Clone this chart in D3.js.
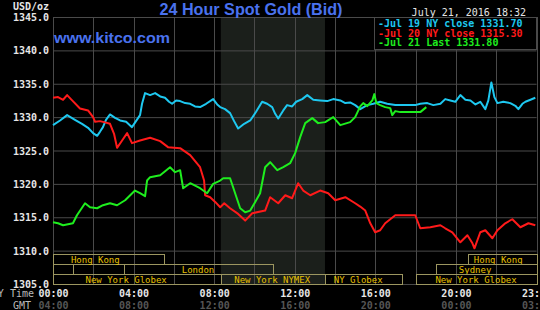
<!DOCTYPE html>
<html>
<head>
<meta charset="utf-8">
<script src="https://cdn.jsdelivr.net/npm/d3@7"></script>
<style>
  html, body { margin: 0; padding: 0; background: #000; overflow: hidden; }
  svg { display: block; }
</style>
</head>
<body>
<svg id="chart" width="540" height="310"></svg>
<script>
// hours since 00:00 NY time, price in USD/oz
var jul19 = [[0.00,1328.8],[0.35,1329.5],[0.70,1330.3],[1.09,1329.6],[1.44,1329.0],[1.74,1328.4],[1.99,1327.6],[2.19,1327.2],[2.33,1327.8],[2.48,1328.5],[2.63,1329.6],[2.83,1330.4],[3.08,1329.9],[3.33,1329.5],[3.63,1329.3],[3.92,1328.5],[4.12,1329.4],[4.32,1330.3],[4.42,1332.0],[4.57,1333.6],[4.82,1333.3],[5.07,1333.6],[5.32,1333.1],[5.56,1332.9],[5.76,1332.3],[5.91,1332.0],[6.11,1332.5],[6.31,1332.4],[6.56,1332.1],[6.81,1332.0],[7.05,1331.6],[7.30,1331.5],[7.60,1332.0],[7.95,1332.7],[8.15,1331.9],[8.30,1331.5],[8.54,1331.2],[8.79,1330.6],[8.99,1329.4],[9.19,1328.3],[9.49,1329.0],[9.79,1329.5],[10.08,1330.8],[10.38,1332.3],[10.63,1332.0],[10.88,1331.5],[11.03,1330.5],[11.18,1329.8],[11.43,1331.0],[11.62,1331.8],[11.87,1331.6],[12.07,1332.3],[12.37,1332.7],[12.62,1333.3],[12.92,1332.6],[13.26,1332.5],[13.61,1332.4],[13.91,1332.7],[14.26,1332.5],[14.51,1332.1],[14.75,1332.2],[15.00,1331.8],[15.25,1331.2],[15.60,1331.8],[15.90,1332.0],[16.24,1332.3],[16.59,1332.0],[16.99,1331.8],[17.49,1331.8],[17.98,1331.8],[18.23,1332.0],[18.58,1332.1],[18.88,1331.8],[19.23,1332.0],[19.47,1332.7],[19.72,1332.5],[19.97,1332.3],[20.22,1333.3],[20.47,1332.6],[20.72,1332.5],[20.97,1331.9],[21.21,1332.3],[21.46,1331.2],[21.61,1332.5],[21.76,1335.2],[21.91,1333.0],[22.06,1332.1],[22.35,1332.3],[22.70,1332.1],[22.95,1331.7],[23.10,1331.2],[23.30,1332.0],[23.45,1332.3],[23.70,1332.6],[23.94,1332.9]];
var jul20 = [[0.00,1332.9],[0.25,1333.0],[0.50,1332.6],[0.70,1333.3],[0.95,1332.5],[1.34,1331.3],[1.74,1331.0],[1.99,1330.0],[2.09,1329.3],[2.33,1329.4],[2.53,1329.25],[2.83,1329.0],[3.03,1327.5],[3.18,1325.4],[3.43,1326.5],[3.68,1327.6],[3.92,1326.1],[4.32,1326.5],[4.82,1326.9],[5.32,1326.4],[5.71,1325.5],[6.31,1325.35],[6.81,1324.3],[7.30,1322.5],[7.50,1320.5],[7.55,1318.3],[7.80,1318.0],[8.05,1317.3],[8.30,1316.5],[8.50,1317.1],[8.79,1316.35],[9.19,1315.5],[9.54,1314.5],[9.89,1315.6],[10.53,1316.0],[10.78,1318.0],[11.18,1317.1],[11.53,1318.3],[11.87,1317.85],[12.17,1320.1],[12.42,1319.0],[12.77,1318.3],[13.26,1319.0],[13.66,1318.6],[14.01,1317.55],[14.51,1318.0],[15.00,1317.1],[15.25,1316.6],[15.50,1316.0],[15.75,1314.1],[15.99,1312.75],[16.24,1313.05],[16.49,1314.1],[16.99,1315.3],[17.98,1315.3],[18.23,1313.35],[18.73,1313.5],[19.23,1313.8],[19.47,1313.35],[19.82,1312.75],[20.22,1311.25],[20.57,1312.3],[20.82,1311.1],[20.92,1310.35],[21.21,1312.75],[21.46,1313.05],[21.81,1311.85],[22.06,1313.05],[22.45,1314.1],[22.80,1314.7],[23.20,1313.5],[23.60,1314.1],[23.94,1313.8]];
var jul21 = [[0.00,1314.25],[0.25,1314.1],[0.50,1313.8],[0.99,1314.1],[1.19,1315.3],[1.59,1317.1],[1.84,1316.5],[2.19,1316.35],[2.48,1316.8],[2.83,1317.1],[3.18,1316.8],[3.58,1317.55],[4.07,1319.0],[4.32,1318.6],[4.57,1318.15],[4.67,1320.5],[4.82,1321.0],[5.32,1321.3],[5.81,1322.5],[6.06,1321.75],[6.31,1322.05],[6.46,1319.35],[6.81,1320.1],[7.30,1319.35],[7.65,1318.6],[7.95,1320.0],[8.30,1320.5],[8.45,1320.85],[8.79,1320.85],[8.94,1319.5],[9.29,1316.35],[9.54,1315.75],[9.79,1316.0],[10.03,1317.25],[10.28,1318.6],[10.53,1322.5],[10.78,1323.25],[11.13,1322.05],[11.43,1322.5],[11.77,1323.1],[12.02,1324.6],[12.27,1327.0],[12.52,1329.1],[12.87,1329.85],[13.16,1329.1],[13.51,1329.25],[13.91,1330.0],[14.26,1328.8],[14.75,1329.25],[15.00,1330.0],[15.25,1331.6],[15.40,1332.1],[15.60,1331.65],[15.85,1332.5],[15.95,1333.45],[16.05,1332.1],[16.24,1331.8],[16.49,1331.5],[16.74,1331.35],[16.84,1330.3],[16.99,1330.9],[17.24,1330.75],[18.23,1330.75],[18.53,1331.5]];

var seriesNames = ["-Jul 19 NY close 1331.70", "-Jul 20 NY close 1315.30", "-Jul 21 Last 1331.80"];
var seriesColors = ["#1ec8f0", "#ff1a1a", "#1eee1e"];

var yTicks = [1305, 1310, 1315, 1320, 1325, 1330, 1335, 1340, 1345];
var xGridHours = [0, 2, 4, 6, 8, 10, 12, 14, 16, 18, 20, 22, 24];
var xLabelHours = [0, 4, 8, 12, 16, 20, 24];
var nyLabels = ["00:00", "04:00", "08:00", "12:00", "16:00", "20:00", "23:59"];
var gmtLabels = ["04:00", "08:00", "12:00", "16:00", "20:00", "00:00", "03:59"];

// NY trading hours (shaded)
var nyHours = [8.33, 13.5];

// sessions: row, start, end, label, label position (hours)
var sessRow = [0, 0, 1, 1, 1, 2, 2, 2, 2];
var sessStart = [0, 20.6, 0, 3.5, 19, 0, 8.33, 13.5, 18];
var sessEnd = [5.5, 24, 1, 10.93, 24, 8.33, 13.5, 17.33, 24];
var sessName = ["Hong Kong", "Hong Kong", "", "London", "Sydney", "New York Globex", "New York NYMEX", "NY Globex", "New York Globex"];
var sessMid = [2.1, 22.1, 0.5, 7.2, 20.95, 3.63, 10.88, 15.15, 21.0];

var svg = d3.select("#chart");
var mono = "'DejaVu Sans Mono', monospace";

var x = d3.scaleLinear().domain([0, 24]).range([53, 536.5]);
var y = d3.scaleLinear().domain([1305, 1345]).range([284, 17]);

svg.append("rect").attr("width", 540).attr("height", 310).attr("fill", "#000");

// shaded NY session
svg.append("rect")
    .attr("x", x(nyHours[0]))
    .attr("y", y(1345))
    .attr("width", x(nyHours[1]) - x(nyHours[0]))
    .attr("height", y(1305) - y(1345))
    .attr("fill", "#1b1f1b");

// grid
var grid = svg.append("g");
grid.selectAll("line.h")
    .data(yTicks)
    .enter().append("line")
    .attr("class", "h")
    .attr("x1", x(0)).attr("x2", x(24))
    .attr("y1", function (d) { return y(d) + 0.5; })
    .attr("y2", function (d) { return y(d) + 0.5; })
    .attr("stroke", "#4a4a4a");
grid.selectAll("line.v")
    .data(xGridHours)
    .enter().append("line")
    .attr("class", "v")
    .attr("x1", function (d) { return Math.round(x(d)) + 0.5; })
    .attr("x2", function (d) { return Math.round(x(d)) + 0.5; })
    .attr("y1", y(1345)).attr("y2", y(1305))
    .attr("stroke", "#4a4a4a");

// y axis labels
var yAxis = svg.append("g")
    .attr("transform", "translate(49,0)")
    .call(d3.axisLeft(y).tickValues(yTicks).tickSize(0).tickPadding(0).tickFormat(d3.format(".1f")));
yAxis.select(".domain").remove();
yAxis.selectAll("text")
    .attr("fill", "#e6e6e6")
    .style("font-family", mono)
    .style("font-weight", "bold")
    .style("font-size", "10px")
    .attr("dy", "0.36em");

// x axis labels, NY time and GMT
var xAxis = svg.append("g")
    .attr("transform", "translate(0,290)")
    .call(d3.axisBottom(x).tickValues(xLabelHours).tickSize(0).tickPadding(0)
        .tickFormat(function (d, i) { return nyLabels[i]; }));
xAxis.select(".domain").remove();
xAxis.selectAll("text")
    .attr("fill", "#e6e6e6")
    .style("font-family", mono)
    .style("font-weight", "bold")
    .style("font-size", "10px");
var gAxis = svg.append("g")
    .attr("transform", "translate(0,302)")
    .call(d3.axisBottom(x).tickValues(xLabelHours).tickSize(0).tickPadding(0)
        .tickFormat(function (d, i) { return gmtLabels[i]; }));
gAxis.select(".domain").remove();
gAxis.selectAll("text")
    .attr("fill", "#555")
    .style("font-family", mono)
    .style("font-weight", "bold")
    .style("font-size", "10px");

svg.append("text").attr("x", 34).attr("y", 297).attr("text-anchor", "end")
    .attr("fill", "#bbb").style("font-family", mono).style("font-size", "10px").text("NY Time");
svg.append("text").attr("x", 31).attr("y", 309).attr("text-anchor", "end")
    .attr("fill", "#bbb").style("font-family", mono).style("font-size", "10px").text("GMT");

// session boxes
var sess = svg.append("g");
var rowTop = function (r) { return 254 + r * 10; };
sessName.forEach(function (name, i) {
    var x0 = Math.round(x(sessStart[i])) + 0.5;
    var x1 = Math.round(x(sessEnd[i])) + 0.5;
    sess.append("rect")
        .attr("x", x0).attr("y", rowTop(sessRow[i]) + 0.5)
        .attr("width", x1 - x0).attr("height", 10)
        .attr("fill", "none")
        .attr("stroke", "#9c9660");
    if (name) {
        sess.append("text")
            .attr("x", x(sessMid[i]))
            .attr("y", rowTop(sessRow[i]) + 8.5)
            .attr("text-anchor", "middle")
            .attr("fill", "#e8c000")
            .style("font-family", mono)
            .style("font-size", "9px")
            .text(name);
    }
});

// price lines
var line = d3.line()
    .x(function (d) { return x(d[0]); })
    .y(function (d) { return y(d[1]); });
[jul19, jul20, jul21].forEach(function (s, i) {
    svg.append("path")
        .datum(s)
        .attr("d", line)
        .attr("fill", "none")
        .attr("stroke", seriesColors[i])
        .attr("stroke-width", 2)
        .attr("stroke-linejoin", "round");
});

// legend box
svg.append("rect")
    .attr("x", 374.5).attr("y", 17.5)
    .attr("width", 162).attr("height", 32)
    .attr("fill", "#000").attr("stroke", "#4a4a4a");
svg.selectAll("text.legend")
    .data(seriesNames)
    .enter().append("text")
    .attr("class", "legend")
    .attr("x", 378)
    .attr("y", function (d, i) { return 27 + i * 9.7; })
    .attr("fill", function (d, i) { return seriesColors[i]; })
    .style("font-family", mono)
    .style("font-weight", "bold")
    .style("font-size", "10px")
    .text(function (d) { return d; });

// header texts
svg.append("text").attr("x", 49).attr("y", 10).attr("text-anchor", "end")
    .attr("fill", "#e6e6e6").style("font-family", mono).style("font-weight", "bold")
    .style("font-size", "10px").text("USD/oz");
svg.append("text").attr("x", 251).attr("y", 14.5).attr("text-anchor", "middle")
    .attr("fill", "#4a72ee").style("font-family", "'Liberation Sans', Arial, sans-serif")
    .style("font-weight", "bold").style("font-size", "16px")
    .attr("textLength", 183).attr("lengthAdjust", "spacingAndGlyphs")
    .text("24 Hour Spot Gold (Bid)");
svg.append("text").attr("x", 54).attr("y", 43)
    .attr("fill", "#4a72ee").style("font-family", "'Liberation Sans', Arial, sans-serif")
    .style("font-weight", "bold").style("font-size", "14px")
    .attr("textLength", 116).attr("lengthAdjust", "spacingAndGlyphs")
    .text("www.kitco.com");
svg.append("text").attr("x", 526).attr("y", 15.5).attr("text-anchor", "end")
    .attr("fill", "#e6e6e6").style("font-family", mono)
    .style("font-size", "10px").text("July 21, 2016 18:32");
</script>
</body>
</html>
